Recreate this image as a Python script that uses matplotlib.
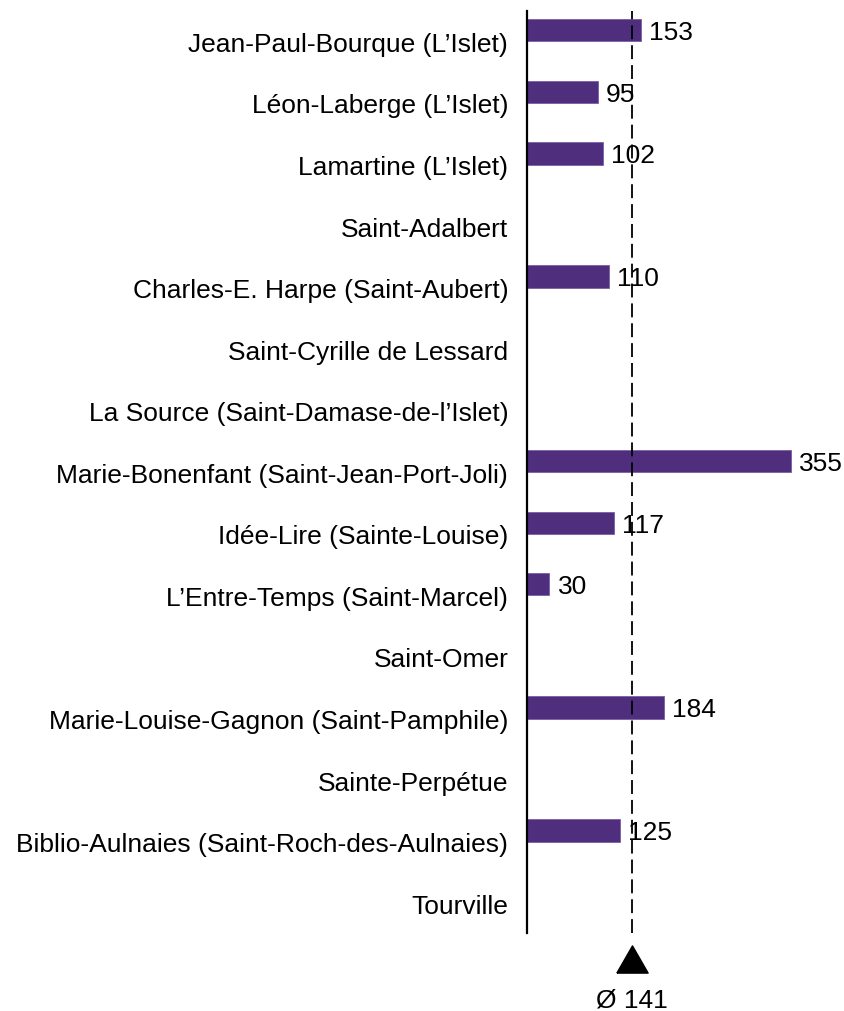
import matplotlib
matplotlib.use("Agg")
import matplotlib.pyplot as plt

categories = [
    "Jean-Paul-Bourque (L\u2019Islet)",
    "Léon-Laberge (L\u2019Islet)",
    "Lamartine (L\u2019Islet)",
    "Saint-Adalbert",
    "Charles-E. Harpe (Saint-Aubert)",
    "Saint-Cyrille de Lessard",
    "La Source (Saint-Damase-de-l\u2019Islet)",
    "Marie-Bonenfant (Saint-Jean-Port-Joli)",
    "Idée-Lire (Sainte-Louise)",
    "L\u2019Entre-Temps (Saint-Marcel)",
    "Saint-Omer",
    "Marie-Louise-Gagnon (Saint-Pamphile)",
    "Sainte-Perpétue",
    "Biblio-Aulnaies (Saint-Roch-des-Aulnaies)",
    "Tourville",
]
values = [153, 95, 102, None, 110, None, None, 355, 117, 30, None, 184, None, 125, None]
average = 141
avg_label = "Ø 141"

plt.rcParams['font.family'] = ['Liberation Sans', 'DejaVu Sans']
FS = 19
bar_color = '#4F2E7E'

fig = plt.figure(figsize=(8.45, 10.11), dpi=100)
W, H = 845, 1011
left_px, right_px, top_px, bot_px = 527, 845, 11, 933
ax = fig.add_axes([left_px / W, 1 - bot_px / H, (right_px - left_px) / W, (bot_px - top_px) / H])

row0, step = 30.3, 61.56
y_top = (top_px - row0) / step
y_bot = (bot_px - row0) / step
ax.set_ylim(y_bot, y_top)
ax.set_xlim(0, (right_px - left_px) / 0.743)

for i, (cat, v) in enumerate(zip(categories, values)):
    if v is not None:
        ax.barh(i, v, height=0.36, color=bar_color, edgecolor='#7A5FA6', linewidth=0.6, zorder=2)
        ax.annotate(str(v), xy=(v, i), xytext=(6.0, -2.0), textcoords='offset points',
                    ha='left', va='center', fontsize=FS, color='black', zorder=4)
    ax.annotate(cat, xy=(0, i), xycoords=('axes fraction', 'data'), xytext=(-13.5, -10.5),
                textcoords='offset points', ha='right', va='center', fontsize=FS, color='black')

ax.axvline(average, color='black', linewidth=1.3, dashes=(7.7, 3.3), zorder=3)

# triangle and label below axis
tri_y = (959 - row0) / step
ax.plot([average], [tri_y], marker=[(-1, -0.87), (1, -0.87), (0, 0.87), (-1, -0.87)],
        markersize=22.5, color='black', clip_on=False, linestyle='none')
ax.text(average, (1000 - row0) / step, avg_label, ha='center', va='center', fontsize=FS,
        clip_on=False)

for s in ['top', 'right', 'bottom']:
    ax.spines[s].set_visible(False)
ax.spines['left'].set_linewidth(1.6)
ax.set_xticks([])
ax.set_yticks([])

fig.savefig('out.png', dpi=100)
